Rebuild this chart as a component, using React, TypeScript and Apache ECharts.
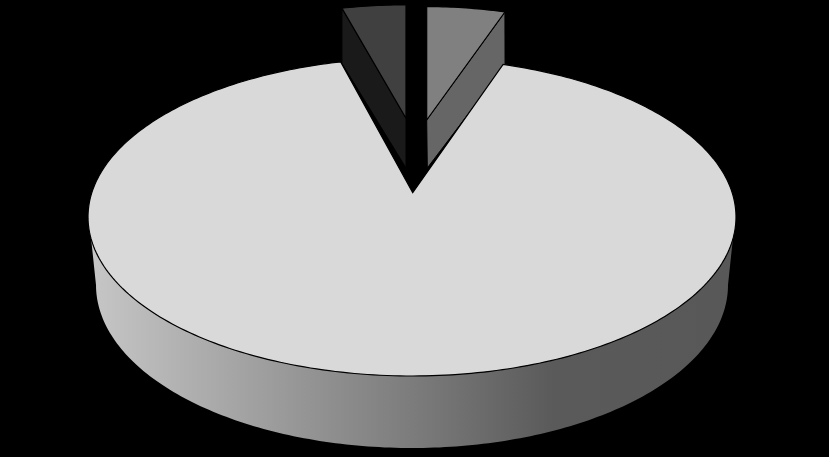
import React, { useEffect, useRef } from "react";
import * as echarts from "echarts";

// Reference carries no text: these names only identify the three slices.
const categories = ["Slice 1", "Slice 2", "Slice 3"];
const values = [5.3, 90.5, 4.2];

const DEG = Math.PI / 180;
const total = values.reduce((a, b) => a + b, 0);

type Layer = { ax: number; ay: number; cx: number; cy: number; rx: number; ry: number };

const mainTop: Layer = { ax: 412.7, ay: 192.7, cx: 412, cy: 217, rx: 324, ry: 159 };
const mainBottom: Layer = { ax: 412.7, ay: 260, cx: 412, cy: 285, rx: 316, ry: 163 };

function smallLayer(ax: number, ay: number, kx: number, ky: number): Layer {
  return {
    ax,
    ay,
    cx: ax - 0.7 * kx,
    cy: ay + 24.3 * ky,
    rx: 324 * kx,
    ry: 159 * ky,
  };
}

const layers: { top: Layer; bottom: Layer }[] = [
  { top: smallLayer(426.7, 120, 0.865, 0.842), bottom: smallLayer(427.3, 168, 0.86, 0.8) },
  { top: mainTop, bottom: mainBottom },
  { top: smallLayer(406, 118.3, 0.89, 0.842), bottom: smallLayer(406, 168, 0.89, 0.8) },
];

const topColors = ["#808080", "#d9d9d9", "#404040"];
const wallColors = ["#666666", "", "#1a1a1a"];

// Where the ray from the layer's apex at angle theta (clockwise from top) meets its rim.
function rim(l: Layer, theta: number): [number, number] {
  const dx = l.rx * Math.sin(theta * DEG);
  const dy = -l.ry * Math.cos(theta * DEG);
  const ox = l.ax - l.cx;
  const oy = l.ay - l.cy;
  const A = (dx * dx) / (l.rx * l.rx) + (dy * dy) / (l.ry * l.ry);
  const B = 2 * ((ox * dx) / (l.rx * l.rx) + (oy * dy) / (l.ry * l.ry));
  const C = (ox * ox) / (l.rx * l.rx) + (oy * oy) / (l.ry * l.ry) - 1;
  const t = (-B + Math.sqrt(B * B - 4 * A * C)) / (2 * A);
  return [l.ax + dx * t, l.ay + dy * t];
}

function arc(l: Layer, from: number, to: number): [number, number][] {
  const n = Math.max(2, Math.ceil(Math.abs(to - from)));
  const pts: [number, number][] = [];
  for (let i = 0; i <= n; i++) pts.push(rim(l, from + ((to - from) * i) / n));
  return pts;
}

function ellipseArc(l: Layer, from: number, to: number): [number, number][] {
  const pts: [number, number][] = [];
  const n = Math.ceil(Math.abs(to - from));
  for (let i = 0; i <= n; i++) {
    const p = (from + ((to - from) * i) / n) * DEG;
    pts.push([l.cx + l.rx * Math.sin(p), l.cy - l.ry * Math.cos(p)]);
  }
  return pts;
}

const lineStyle = { stroke: "#000000", lineWidth: 1 };

function renderItem(params: any, api: any) {
  const i = params.dataIndex;
  let before = 0;
  for (let k = 0; k < i; k++) before += values[k];
  const start = (before / total) * 360;
  const end = start + (api.value(0) / total) * 360;
  const { top, bottom } = layers[i];
  const children: any[] = [];

  // Radial wall facing the viewer
  const addRadial = (theta: number) => {
    const p = rim(top, theta);
    const q = rim(bottom, theta);
    children.push({
      type: "polygon",
      shape: { points: [[top.ax, top.ay], p, q, [bottom.ax, bottom.ay]] },
      style: { fill: wallColors[i], ...lineStyle },
    });
  };
  if (end > 0 && end < 180) addRadial(end);
  if (start > 180 && start < 360) addRadial(start);

  // Rim wall along the front of the large slice
  if (start < 90 && end > 270) {
    children.push({
      type: "polygon",
      shape: {
        points: [...ellipseArc(top, 98, 262), ...ellipseArc(bottom, 270, 90)],
      },
      style: {
        fill: new echarts.graphic.LinearGradient(0, 0, 1, 0, [
          { offset: 0, color: "#c6c6c6" },
          { offset: 0.5, color: "#7c7c7c" },
          { offset: 0.72, color: "#5a5a5a" },
          { offset: 1, color: "#585858" },
        ]),
        stroke: "#000000",
        lineWidth: 0,
      },
    });
  }

  // Top face
  children.push({
    type: "polygon",
    shape: { points: [[top.ax, top.ay], ...arc(top, start, end)] },
    style: { fill: topColors[i], stroke: "#000000", lineWidth: 1.2 },
  });

  return { type: "group", children };
}

export default function App() {
  const ref = useRef<HTMLDivElement>(null);
  useEffect(() => {
    const chart = echarts.init(ref.current!, null, { renderer: "svg" });
    chart.setOption({
      animation: false,
      backgroundColor: "#000000",
      series: [
        {
          type: "custom",
          coordinateSystem: "none",
          silent: true,
          renderItem,
          data: categories.map((name, i) => ({ name, value: [values[i]] })),
        },
      ],
    });
    return () => chart.dispose();
  }, []);
  return (
    <div
      ref={ref}
      style={{ position: "fixed", left: 0, top: 0, width: 829, height: 457 }}
    />
  );
}
